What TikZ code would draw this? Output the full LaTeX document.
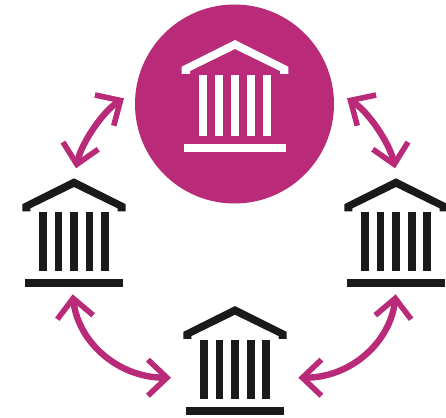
\documentclass[tikz,border=0pt]{standalone}
\usetikzlibrary{arrows.meta}
\definecolor{plum}{HTML}{B92A78}
\definecolor{ink}{HTML}{1A1A1A}
\tikzset{
  link/.style={draw=plum,line width=6.4pt,{Straight Barb[length=19pt,width=36pt,line width=5.6pt]}-{Straight Barb[length=19pt,width=36pt,line width=5.6pt]}},
  temple/.pic={
    \fill (0,0) -- (53.3,26.7) -- (53.3,34) -- (45,34) -- (45,31) -- (0,9) -- (-45,31) -- (-45,34) -- (-53.3,34) -- (-53.3,26.7) -- cycle;
    \foreach \c in {-32,-16,0,16,32}{\fill (\c-4.1,34.7) rectangle (\c+4.1,95.7);}
    \fill (-50.7,104) rectangle (50.7,112);
  }
}
\begin{document}
\begin{tikzpicture}[x=1pt,y=-1pt]
\useasboundingbox (0,0) rectangle (446,417);
\fill[plum] (234.5,104) circle[radius=99.5pt];
\pic[white] at (235,40) {temple};
\pic[ink,scale=.97] at (74,178.3) {temple};
\pic[ink,scale=.97] at (396,178.3) {temple};
\pic[ink,scale=.97] at (235,306) {temple};
\coordinate (tlA) at (124,98.3);
\coordinate (tlB) at (76,168.3);
\coordinate (trA) at (347,98.3);
\coordinate (trB) at (395,168.3);
\coordinate (blA) at (72.7,294.3);
\coordinate (blB) at (171,377.7);
\coordinate (brA) at (395.7,294.3);
\coordinate (brB) at (298.3,377.7);
\path[link] (tlA) .. controls (102.8,111.3) and (81,143.8) .. (tlB);
\path[link] (trA) .. controls (368.2,111.3) and (390,143.8) .. (trB);
\path[link] (blA) .. controls (78,342) and (118,377.7) .. (blB);
\path[link] (brA) .. controls (390.4,342) and (351,377.7) .. (brB);
\end{tikzpicture}
\end{document}
